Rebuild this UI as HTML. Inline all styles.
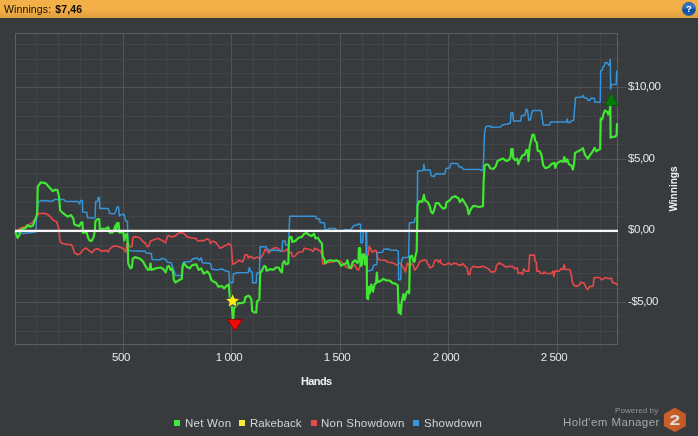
<!DOCTYPE html>
<html><head><meta charset="utf-8"><title>Winnings</title>
<style>
html,body{margin:0;padding:0;}
body{width:698px;height:436px;overflow:hidden;background:#373b3e;font-family:"Liberation Sans",sans-serif;position:relative;}
#hdr{position:absolute;left:0;top:0;width:698px;height:18px;background:linear-gradient(#f4b048 0%,#f4b048 48%,#eeaa45 64%,#e0a040 93%,#e9a941 100%);border-bottom:1px solid #2c343e;}
#hdr .t{position:absolute;left:4px;top:2.5px;font-size:10.5px;line-height:13px;color:#120c02;white-space:nowrap;letter-spacing:0.12px;will-change:transform}
#hdr .t b{margin-left:1px}
svg{position:absolute;left:0;top:0;}
.lbl{position:absolute;color:#e6e6e6;font-size:11.5px;line-height:14px;white-space:nowrap;letter-spacing:-0.45px;will-change:transform}
.xl{transform:translateX(-50%);top:350px;}
.yl{left:628px;}
.leg{position:absolute;top:415.5px;font-size:11.5px;line-height:14px;color:#d4d4d4;white-space:nowrap;letter-spacing:0.25px;will-change:transform}
.sq{position:absolute;top:420px;width:6px;height:6px;}
</style></head><body>
<div id="hdr"><div class="t">Winnings: <b>$7,46</b></div></div>
<svg width="698" height="436" viewBox="0 0 698 436">
<defs>
<linearGradient id="hg" x1="0" y1="0" x2="0" y2="1"><stop offset="0" stop-color="#2560b0"/><stop offset="0.25" stop-color="#3a7cca"/><stop offset="0.5" stop-color="#2463b4"/><stop offset="0.52" stop-color="#0e4d9f"/><stop offset="1" stop-color="#1a62b4"/></linearGradient>
</defs>
<!-- help icon -->
<circle cx="688.9" cy="8.9" r="6.7" fill="url(#hg)" stroke="#174e96" stroke-width="0.5"/>
<text x="688.8" y="12.2" font-family="Liberation Sans, sans-serif" font-weight="bold" font-size="9.4" fill="#fff" text-anchor="middle">?</text>
<!-- grid -->
<g shape-rendering="crispEdges">
<line x1="36.5" y1="33.5" x2="36.5" y2="349.0" stroke="#41454a" stroke-width="1"/>
<line x1="58.5" y1="33.5" x2="58.5" y2="349.0" stroke="#41454a" stroke-width="1"/>
<line x1="80.5" y1="33.5" x2="80.5" y2="349.0" stroke="#41454a" stroke-width="1"/>
<line x1="101.5" y1="33.5" x2="101.5" y2="349.0" stroke="#41454a" stroke-width="1"/>
<line x1="123.5" y1="33.5" x2="123.5" y2="352.5" stroke="#50545a" stroke-width="1"/>
<line x1="145.5" y1="33.5" x2="145.5" y2="349.0" stroke="#41454a" stroke-width="1"/>
<line x1="166.5" y1="33.5" x2="166.5" y2="349.0" stroke="#41454a" stroke-width="1"/>
<line x1="188.5" y1="33.5" x2="188.5" y2="349.0" stroke="#41454a" stroke-width="1"/>
<line x1="210.5" y1="33.5" x2="210.5" y2="349.0" stroke="#41454a" stroke-width="1"/>
<line x1="231.5" y1="33.5" x2="231.5" y2="352.5" stroke="#50545a" stroke-width="1"/>
<line x1="253.5" y1="33.5" x2="253.5" y2="349.0" stroke="#41454a" stroke-width="1"/>
<line x1="275.5" y1="33.5" x2="275.5" y2="349.0" stroke="#41454a" stroke-width="1"/>
<line x1="296.5" y1="33.5" x2="296.5" y2="349.0" stroke="#41454a" stroke-width="1"/>
<line x1="318.5" y1="33.5" x2="318.5" y2="349.0" stroke="#41454a" stroke-width="1"/>
<line x1="340.5" y1="33.5" x2="340.5" y2="352.5" stroke="#50545a" stroke-width="1"/>
<line x1="362.5" y1="33.5" x2="362.5" y2="349.0" stroke="#41454a" stroke-width="1"/>
<line x1="383.5" y1="33.5" x2="383.5" y2="349.0" stroke="#41454a" stroke-width="1"/>
<line x1="405.5" y1="33.5" x2="405.5" y2="349.0" stroke="#41454a" stroke-width="1"/>
<line x1="427.5" y1="33.5" x2="427.5" y2="349.0" stroke="#41454a" stroke-width="1"/>
<line x1="448.5" y1="33.5" x2="448.5" y2="352.5" stroke="#50545a" stroke-width="1"/>
<line x1="470.5" y1="33.5" x2="470.5" y2="349.0" stroke="#41454a" stroke-width="1"/>
<line x1="492.5" y1="33.5" x2="492.5" y2="349.0" stroke="#41454a" stroke-width="1"/>
<line x1="514.5" y1="33.5" x2="514.5" y2="349.0" stroke="#41454a" stroke-width="1"/>
<line x1="535.5" y1="33.5" x2="535.5" y2="349.0" stroke="#41454a" stroke-width="1"/>
<line x1="557.5" y1="33.5" x2="557.5" y2="352.5" stroke="#50545a" stroke-width="1"/>
<line x1="579.5" y1="33.5" x2="579.5" y2="349.0" stroke="#41454a" stroke-width="1"/>
<line x1="600.5" y1="33.5" x2="600.5" y2="349.0" stroke="#41454a" stroke-width="1"/>
<line x1="15.5" y1="331.5" x2="622.0" y2="331.5" stroke="#41454a" stroke-width="1"/>
<line x1="15.5" y1="316.5" x2="622.0" y2="316.5" stroke="#41454a" stroke-width="1"/>
<line x1="15.5" y1="302.5" x2="626.0" y2="302.5" stroke="#50545a" stroke-width="1"/>
<line x1="15.5" y1="288.5" x2="622.0" y2="288.5" stroke="#41454a" stroke-width="1"/>
<line x1="15.5" y1="273.5" x2="622.0" y2="273.5" stroke="#41454a" stroke-width="1"/>
<line x1="15.5" y1="259.5" x2="622.0" y2="259.5" stroke="#41454a" stroke-width="1"/>
<line x1="15.5" y1="245.5" x2="622.0" y2="245.5" stroke="#41454a" stroke-width="1"/>
<line x1="15.5" y1="216.5" x2="622.0" y2="216.5" stroke="#41454a" stroke-width="1"/>
<line x1="15.5" y1="202.5" x2="622.0" y2="202.5" stroke="#41454a" stroke-width="1"/>
<line x1="15.5" y1="187.5" x2="622.0" y2="187.5" stroke="#41454a" stroke-width="1"/>
<line x1="15.5" y1="173.5" x2="622.0" y2="173.5" stroke="#41454a" stroke-width="1"/>
<line x1="15.5" y1="159.5" x2="626.0" y2="159.5" stroke="#50545a" stroke-width="1"/>
<line x1="15.5" y1="144.5" x2="622.0" y2="144.5" stroke="#41454a" stroke-width="1"/>
<line x1="15.5" y1="130.5" x2="622.0" y2="130.5" stroke="#41454a" stroke-width="1"/>
<line x1="15.5" y1="116.5" x2="622.0" y2="116.5" stroke="#41454a" stroke-width="1"/>
<line x1="15.5" y1="102.5" x2="622.0" y2="102.5" stroke="#41454a" stroke-width="1"/>
<line x1="15.5" y1="87.5" x2="626.0" y2="87.5" stroke="#50545a" stroke-width="1"/>
<line x1="15.5" y1="73.5" x2="622.0" y2="73.5" stroke="#41454a" stroke-width="1"/>
<line x1="15.5" y1="59.5" x2="622.0" y2="59.5" stroke="#41454a" stroke-width="1"/>
<line x1="15.5" y1="44.5" x2="622.0" y2="44.5" stroke="#41454a" stroke-width="1"/>
<rect x="15.5" y="33.5" width="602.0" height="311.0" fill="none" stroke="#5c6065" stroke-width="1"/>
</g>
<!-- series -->
<g fill="none" stroke-linejoin="round" stroke-linecap="round">
<polyline stroke="#e64849" stroke-width="1.65" points="15.6,231.2 21.2,228.0 26.0,226.4 32.5,222.4 36.5,216.7 38.9,213.5 44.5,213.2 48.5,215.1 51.7,218.3 54.1,220.7 56.5,221.5 58.2,226.4 59.0,230.4 59.8,239.2 60.8,242.8 64.8,244.0 71.2,244.8 72.8,247.2 74.4,252.8 77.7,254.7 80.1,253.6 83.3,249.6 85.7,248.0 88.9,250.4 92.1,252.8 94.5,249.6 97.7,248.8 101.7,251.2 106.5,250.4 108.2,252.0 109.8,248.8 113.0,246.4 116.2,246.0 120.2,247.2 123.3,248.6 125.7,252.0 126.7,244.0 128.0,242.7 129.6,246.7 132.0,246.7 132.8,237.8 135.2,236.6 139.3,237.5 142.5,241.0 145.7,243.5 147.3,246.7 148.9,245.9 150.5,241.0 154.5,239.4 157.7,238.2 161.7,240.2 165.7,242.7 167.4,236.2 169.0,235.4 170.6,237.0 175.4,235.9 178.6,233.0 181.8,232.7 184.2,233.8 186.6,236.6 190.6,237.8 196.2,238.6 197.8,241.0 201.9,240.4 203.2,241.0 207.2,238.6 209.6,240.2 210.4,243.5 212.8,241.0 216.1,242.7 218.5,245.9 220.1,248.3 223.3,246.7 226.5,245.1 228.9,243.5 231.3,245.9 232.1,257.1 232.9,264.3 236.1,262.7 238.5,260.3 242.5,261.9 244.1,258.7 244.9,254.7 247.4,254.7 248.2,257.9 250.6,256.3 253.8,258.7 257.0,257.1 260.2,258.4 263.4,253.9 265.0,249.1 267.4,250.7 269.0,253.1 270.6,249.9 273.8,248.3 276.2,247.5 278.7,249.1 281.9,251.5 285.1,250.8 287.4,249.0 289.0,253.0 291.4,252.2 292.2,256.2 294.6,256.5 297.0,253.8 298.6,252.2 302.7,251.7 304.3,248.2 307.5,249.0 310.7,249.8 313.1,251.4 314.7,248.2 317.9,249.8 320.3,251.0 321.9,254.6 322.7,264.2 326.0,263.0 333.2,261.8 338.0,260.8 340.4,261.0 343.2,263.6 347.2,267.7 351.2,268.5 354.4,264.4 356.9,269.3 358.5,270.1 359.6,267.5 361.3,259.4 363.6,253.7 366.5,256.0 368.2,254.8 369.3,246.4 370.7,249.2 372.3,252.4 374.5,250.4 376.3,250.8 377.5,258.2 379.7,260.0 384.8,260.2 388.3,262.2 392.9,262.9 396.9,265.2 399.2,262.9 400.9,264.0 403.2,266.9 405.5,272.2 407.2,263.2 409.8,266.0 411.4,263.6 413.0,264.4 414.6,270.1 417.0,267.7 419.5,262.0 422.7,260.4 425.0,259.9 426.6,260.7 427.4,263.9 429.0,264.7 429.8,267.9 433.0,266.3 434.6,260.7 437.0,259.9 438.6,262.3 440.2,259.9 441.0,263.1 443.5,264.7 445.9,264.7 448.3,263.1 451.5,264.7 453.9,263.1 457.1,263.9 460.3,265.5 462.7,263.6 465.1,266.3 467.1,267.9 468.3,274.3 469.9,274.3 470.7,269.5 473.2,266.3 476.4,267.1 479.6,267.1 482.8,266.3 486.8,267.9 489.2,269.5 490.8,271.9 494.0,271.9 495.6,270.3 496.4,265.5 498.8,263.1 501.2,263.9 503.7,265.5 506.1,267.1 509.3,266.3 512.5,266.3 514.9,268.7 517.3,267.9 518.1,273.5 520.5,272.7 522.6,274.3 523.8,268.7 525.6,271.1 528.8,271.1 529.6,255.1 534.4,255.1 535.2,261.5 536.4,262.3 536.9,271.1 539.3,271.1 540.9,273.5 543.3,273.5 544.1,271.9 545.7,273.5 551.3,273.5 552.9,271.1 554.0,276.7 555.0,271.1 559.3,271.1 560.9,268.7 563.3,269.5 564.1,264.7 565.3,269.5 569.8,269.5 571.4,275.1 572.6,283.2 574.6,285.6 577.0,286.4 579.4,284.8 581.0,282.4 584.2,283.2 585.8,287.2 587.4,289.6 589.8,286.4 593.0,286.4 594.2,277.5 599.5,277.5 601.9,279.9 605.1,277.5 608.3,278.7 611.2,278.0 612.3,282.4 615.5,283.2 617.1,284.8"/>
<polyline stroke="#3595da" stroke-width="1.5" points="15.6,231.5 22.8,233.6 35.7,232.0 36.5,220.0 38.1,202.3 41.3,200.4 48.5,200.7 50.1,201.5 53.3,200.7 55.0,199.4 63.8,199.4 65.4,201.2 78.2,201.4 79.5,203.9 80.8,200.5 82.4,200.5 82.7,212.0 86.7,212.2 87.7,217.8 95.0,217.9 95.7,201.4 97.8,201.2 98.2,197.4 99.4,197.4 99.9,208.6 108.2,208.6 109.8,213.5 114.6,213.8 116.2,210.2 117.0,207.0 118.6,207.0 119.4,215.9 121.8,214.3 124.2,214.6 125.5,220.7 127.5,221.5 127.9,249.0 130.4,250.8 144.9,251.2 146.5,253.1 151.3,253.6 152.1,259.5 160.1,259.8 161.7,258.4 165.7,259.5 167.4,262.2 171.4,262.7 173.0,268.3 174.6,272.4 175.4,275.6 181.8,275.6 182.6,263.5 184.2,261.9 190.6,261.6 193.0,258.7 197.0,257.9 199.5,260.3 201.2,257.9 202.5,262.7 210.5,263.5 211.7,269.1 216.1,269.9 222.5,269.1 224.9,270.7 228.9,271.5 229.7,282.8 232.9,282.8 233.4,274.0 236.9,272.8 248.2,272.4 249.4,267.5 250.6,271.5 252.2,271.9 252.6,282.8 256.2,282.8 256.7,273.2 259.4,272.8 260.2,246.7 265.8,246.7 267.4,249.1 269.8,250.7 273.8,249.9 278.7,250.7 281.9,250.7 282.7,241.0 285.1,241.0 285.9,245.1 288.6,245.1 289.7,216.3 315.5,216.3 316.3,218.5 319.5,218.9 320.3,222.5 324.3,222.8 325.1,229.7 327.5,229.7 329.1,228.6 335.6,228.6 337.2,231.3 342.8,231.3 344.4,229.7 350.8,229.7 352.4,227.3 354.0,225.4 357.2,225.1 357.6,224.1 360.5,224.2 360.8,242.8 362.6,242.4 363.3,231.5 365.8,231.5 366.2,256.0 366.6,231.8 367.2,270.9 368.1,270.9 372.1,270.1 373.7,265.2 376.9,264.4 377.3,252.4 382.5,252.3 383.7,249.3 388.9,249.1 390.0,250.0 396.9,250.2 398.3,251.4 398.6,279.7 400.7,279.7 401.3,262.8 402.7,257.6 408.6,257.3 409.4,223.1 414.3,222.3 415.1,218.3 417.2,218.3 417.6,170.9 423.1,170.5 423.9,164.4 424.7,170.1 430.3,170.1 431.1,175.7 434.3,176.5 435.9,173.8 444.8,174.1 446.0,168.5 449.6,168.1 450.9,163.6 457.6,163.6 459.2,166.9 461.6,166.9 463.2,169.3 480.1,169.6 481.7,170.5 483.0,170.1 483.6,159.6 484.6,132.1 485.9,126.5 490.2,126.0 491.1,127.3 500.7,127.0 502.3,124.9 507.1,124.1 510.3,123.3 511.1,112.8 512.7,112.8 513.5,120.9 520.7,120.9 521.5,115.7 524.8,115.2 526.4,108.8 527.6,111.2 528.8,120.1 530.4,120.1 531.5,113.6 532.8,110.4 541.1,110.4 542.4,119.3 543.2,124.9 549.6,124.9 550.4,122.1 566.5,122.1 567.3,118.9 568.1,122.5 570.5,122.5 571.3,120.9 573.7,120.1 574.5,110.0 575.6,97.4 582.0,97.0 583.0,95.4 584.1,97.8 587.4,98.5 588.2,100.6 590.1,100.1 591.0,98.2 594.3,98.2 594.9,102.2 600.2,102.2 600.7,70.9 602.3,70.1 602.9,66.9 604.2,66.1 605.0,62.8 607.4,62.8 608.7,65.2 609.8,64.4 610.3,59.2 610.6,89.0 611.4,84.5 616.2,84.2 616.7,71.2"/>
<polyline stroke="#41e632" stroke-width="2.2" points="15.5,232.2 17.6,237.8 19.2,235.4 21.6,229.0 25.6,228.2 27.3,225.2 29.7,226.6 32.9,225.6 36.0,217.7 37.2,213.0 37.7,186.8 40.7,182.3 45.7,183.2 51.3,189.4 52.9,191.2 55.3,189.6 57.4,190.1 59.0,196.5 60.2,210.5 61.6,211.8 64.6,214.3 67.8,216.7 71.0,215.1 73.4,218.6 74.3,224.4 79.2,226.3 80.8,223.1 82.4,222.3 83.0,233.0 86.5,232.0 88.2,238.0 89.6,240.6 91.6,241.0 93.8,236.6 94.8,231.0 95.4,221.3 97.6,219.0 99.2,219.0 99.8,229.0 105.9,228.5 108.2,227.1 109.8,232.7 112.2,232.7 113.8,231.1 115.4,225.5 116.2,231.1 117.0,223.1 118.6,223.1 119.4,232.7 123.3,232.2 124.4,240.5 125.6,234.6 127.1,234.4 127.7,243.2 128.2,263.5 130.4,268.3 132.0,267.5 132.8,258.7 135.2,257.1 140.1,258.7 143.3,261.9 145.7,266.7 148.1,269.9 149.7,269.1 150.5,263.5 151.3,269.9 153.7,269.1 156.9,268.0 160.9,267.5 163.3,269.1 165.7,272.4 167.4,266.7 169.0,265.9 170.6,269.9 171.4,268.3 173.0,271.5 173.8,279.6 175.4,282.5 178.6,280.4 181.8,278.8 182.6,266.7 184.2,263.5 186.6,266.7 189.8,268.3 192.2,265.1 196.2,264.3 198.7,269.9 201.1,268.3 203.7,273.6 207.3,271.5 209.7,274.4 211.2,279.6 212.8,281.2 216.0,282.8 218.6,286.8 221.7,286.0 224.1,288.4 226.5,286.0 228.9,284.4 229.5,294.1 230.4,303.0 231.9,307.5 232.9,318.8 233.3,318.8 234.0,307.6 236.0,306.6 238.0,303.4 242.2,302.9 244.3,302.3 245.4,297.2 248.2,295.7 249.8,296.5 251.4,299.7 252.2,310.9 253.8,312.1 256.2,312.5 257.0,301.3 259.4,299.7 260.2,273.2 261.8,270.7 264.2,265.9 265.8,266.7 266.6,270.7 270.6,269.1 273.0,269.9 276.2,267.5 278.7,267.5 280.3,270.7 281.9,272.4 282.7,263.5 284.3,261.1 285.9,264.3 288.3,263.5 289.0,240.0 289.9,237.0 291.5,237.0 292.3,242.0 295.4,240.9 298.6,237.7 301.9,236.9 304.3,233.7 306.7,232.9 309.1,235.0 311.5,236.1 313.9,233.7 315.5,238.5 317.9,237.7 320.3,241.7 321.9,243.3 322.7,256.2 324.3,259.4 325.1,263.4 327.5,261.0 330.7,260.2 334.0,261.0 336.4,260.2 338.8,261.8 341.2,265.8 343.6,264.2 346.4,263.2 347.4,260.3 349.0,267.0 351.0,268.0 352.6,262.4 355.0,260.3 357.4,263.0 358.4,262.0 358.9,248.2 360.1,248.2 360.8,265.8 361.9,265.0 362.5,254.7 364.2,254.7 364.9,264.3 365.6,256.7 366.7,256.7 367.0,298.2 368.1,299.0 368.9,286.9 369.7,293.3 371.3,284.5 372.9,291.7 374.5,284.5 376.1,282.9 376.9,272.5 377.7,282.1 380.1,281.3 383.3,278.9 386.5,280.5 389.8,280.5 392.2,282.9 395.4,283.7 397.8,285.3 398.6,312.6 399.4,304.6 400.7,314.2 401.8,301.4 403.4,294.1 404.5,299.8 406.6,292.5 408.2,290.9 409.2,293.3 409.9,256.8 411.9,255.7 413.5,261.6 414.6,261.6 415.5,255.2 416.7,251.2 417.5,205.0 419.1,201.4 422.3,201.7 423.9,194.9 425.2,200.6 427.9,202.2 429.5,205.4 431.1,211.8 432.7,213.4 434.3,209.4 435.9,203.0 438.3,203.0 440.7,206.2 443.2,208.6 445.6,207.8 446.4,202.2 449.6,200.6 452.0,197.4 455.2,196.2 458.4,198.2 460.0,202.2 462.4,199.0 464.8,203.0 467.2,207.0 468.8,214.2 470.4,210.2 472.8,206.2 476.1,206.2 479.3,207.0 483.0,206.2 483.6,182.1 484.6,165.8 486.2,164.2 488.6,165.0 490.2,168.2 493.5,169.0 495.9,165.8 497.5,161.0 500.7,159.4 503.1,158.6 506.3,161.0 508.7,160.2 510.6,157.0 511.3,149.0 512.6,149.0 513.2,157.8 515.1,160.2 517.1,158.6 518.3,164.2 520.3,159.4 522.4,155.4 524.8,154.6 526.4,149.8 527.6,150.6 528.5,161.0 529.6,146.5 531.2,140.1 532.5,134.5 534.1,135.0 535.2,140.9 536.8,142.5 537.6,150.6 540.0,151.4 541.6,155.5 543.2,165.4 545.6,168.2 548.8,166.9 551.2,164.2 554.4,162.8 555.2,167.8 556.9,163.4 560.9,161.0 563.2,161.8 564.3,157.0 565.7,161.8 567.3,159.4 568.9,164.2 571.3,165.4 572.9,169.5 574.0,164.2 575.0,153.0 577.7,151.4 580.9,149.8 583.0,148.2 584.9,154.6 587.8,158.6 589.8,155.4 592.2,152.2 594.6,147.8 596.2,151.4 598.6,149.8 600.2,149.0 600.7,118.5 602.3,119.3 603.4,114.4 605.0,110.4 607.4,112.0 608.2,114.4 609.8,110.4 610.3,103.0 610.6,137.7 612.2,136.9 615.4,136.6 616.7,134.5 617.0,124.1"/>
</g>
<!-- zero line -->
<rect x="15" y="229.75" width="603" height="2.3" fill="#f6f6f6"/>
<!-- markers -->
<polygon points="232.6,293.4 234.7,298.2 239.9,298.7 236.0,302.2 237.1,307.3 232.6,304.7 228.1,307.3 229.2,302.2 225.3,298.7 230.5,298.2" fill="#ffee10" stroke="#2e2e50" stroke-width="0.8" stroke-linejoin="miter"/>
<polygon points="227.5,319.4 242.5,319.4 235,331" fill="#ee0a0a" stroke="#8a0000" stroke-width="0.8"/>
<polygon points="604.6,105.4 618.2,105.4 611.4,93.2" fill="#067a06" stroke="#045a04" stroke-width="0.8"/>
<!-- hex logo -->
<polygon points="674.75,407.8 685.6,413.9 685.6,425.9 674.75,432 663.9,425.9 663.9,413.9" fill="#ca602a"/>
<polygon points="674.75,407.8 685.6,413.9 685.6,425.9 674.75,432" fill="#c45a26"/>
<text transform="translate(674.75,425) scale(1.27,1)" font-family="Liberation Sans, sans-serif" font-weight="bold" font-size="15.2" fill="#dedede" text-anchor="middle">2</text>
<!-- vertical axis title -->
<text transform="translate(677.4,211.6) rotate(-90)" font-family="Liberation Sans, sans-serif" font-weight="bold" font-size="11.5" fill="#f0f0f0" textLength="45.2" lengthAdjust="spacingAndGlyphs">Winnings</text>
</svg>
<div class="lbl xl" style="left:121.2px">500</div>
<div class="lbl xl" style="left:228.8px">1 000</div>
<div class="lbl xl" style="left:337.4px">1 500</div>
<div class="lbl xl" style="left:445.9px">2 000</div>
<div class="lbl xl" style="left:554.4px">2 500</div>
<div class="lbl yl" style="top:79px">$10,00</div>
<div class="lbl yl" style="top:151px">$5,00</div>
<div class="lbl yl" style="top:221.8px">$0,00</div>
<div class="lbl yl" style="top:294px">-$5,00</div>
<div class="lbl" style="left:301px;top:374px;font-weight:bold;font-size:11px;color:#f0f0f0;letter-spacing:-0.6px">Hands</div>
<div class="sq" style="left:174px;background:#3dec3a"></div><div class="leg" style="left:185px">Net Won</div>
<div class="sq" style="left:239px;background:#f5ea3c"></div><div class="leg" style="left:250px;letter-spacing:0.05px">Rakeback</div>
<div class="sq" style="left:310.5px;background:#e9494b"></div><div class="leg" style="left:321px">Non Showdown</div>
<div class="sq" style="left:412.5px;background:#3498e0"></div><div class="leg" style="left:424px">Showdown</div>
<div style="position:absolute;right:39.5px;top:405px;font-size:8px;line-height:11px;color:#939597;white-space:nowrap;letter-spacing:0.1px;will-change:transform">Powered by</div>
<div style="position:absolute;right:38.6px;top:413.5px;font-size:11.5px;line-height:16px;color:#a6a8aa;white-space:nowrap;letter-spacing:0.42px;will-change:transform">Hold'em Manager</div>
</body></html>
